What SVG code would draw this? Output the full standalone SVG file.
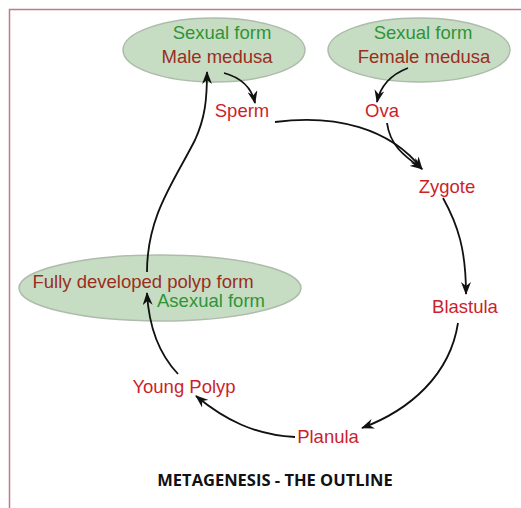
<svg xmlns="http://www.w3.org/2000/svg" width="521" height="508" viewBox="0 0 521 508">
<style>
.lbl{font-family:"Liberation Sans",Arial,sans-serif;font-size:18.5px;text-anchor:middle}
.g{fill:#2f9438}
.b{fill:#9a2e1f}
.r{fill:#cc1f2c}
.ell{fill:#c6ddc3;stroke:#aebcab;stroke-width:1.5}
.c{fill:none;stroke:#111;stroke-width:1.8}
.t{font-family:"Open Sans","DejaVu Sans",sans-serif;font-weight:bold;font-size:16.5px;text-anchor:middle;fill:#111}
</style>
<defs>
<marker id="ah" viewBox="0 0 13 10" refX="12" refY="5" markerWidth="13" markerHeight="10" markerUnits="userSpaceOnUse" orient="auto">
<path d="M0,0 L13,5 L0,10 L4,5 z" fill="#111"/>
</marker>
</defs>
<rect width="521" height="508" fill="#fff"/>
<path d="M9.5,508 L9.5,9.5 L521,9.5" fill="none" stroke="#c27a82" stroke-width="1.5"/>
<g id="male-medusa">
<ellipse class="ell" cx="214" cy="50" rx="91" ry="32"/>
<text class="lbl g" x="222" y="39">Sexual form</text>
<text class="lbl b" x="217" y="63">Male medusa</text>
</g>
<g id="female-medusa">
<ellipse class="ell" cx="419" cy="50" rx="91" ry="32"/>
<text class="lbl g" x="423" y="39">Sexual form</text>
<text class="lbl b" x="424" y="63">Female medusa</text>
</g>
<g id="polyp">
<ellipse class="ell" cx="160" cy="288" rx="141" ry="33"/>
<text class="lbl b" x="143" y="288">Fully developed polyp form</text>
<text class="lbl g" x="211" y="307">Asexual form</text>
</g>
<g id="sperm"><text class="lbl r" x="242" y="117">Sperm</text></g>
<g id="ova"><text class="lbl r" x="382" y="117">Ova</text></g>
<g id="zygote"><text class="lbl r" x="447" y="193">Zygote</text></g>
<g id="blastula"><text class="lbl r" x="465" y="313">Blastula</text></g>
<g id="young-polyp"><text class="lbl r" x="184" y="393">Young Polyp</text></g>
<g id="planula"><text class="lbl r" x="328" y="443">Planula</text></g>
<g id="connectors">
<path class="c" marker-end="url(#ah)" d="M224,73 Q250,80 255,103"/>
<path class="c" marker-end="url(#ah)" d="M408,68 Q382,78 377,102"/>
<path class="c" marker-end="url(#ah)" d="M275,122 C335,114 390,128 422,169"/>
<path class="c" marker-end="url(#ah)" d="M387,123 C390,145 403,155 422,169"/>
<path class="c" marker-end="url(#ah)" d="M443,198 C458,225 466,250 466,294"/>
<path class="c" marker-end="url(#ah)" d="M458,323 C450,375 410,410 362,428"/>
<path class="c" marker-end="url(#ah)" d="M295,437 C255,435 225,420 196,396"/>
<path class="c" marker-end="url(#ah)" d="M178,374 C160,355 149,330 147,293"/>
<path class="c" marker-end="url(#ah)" d="M147,272 C147,215 175,180 195,140 C205,118 207,100 207,72"/>
</g>
<text class="t" x="275" y="486">METAGENESIS - THE OUTLINE</text>
</svg>
